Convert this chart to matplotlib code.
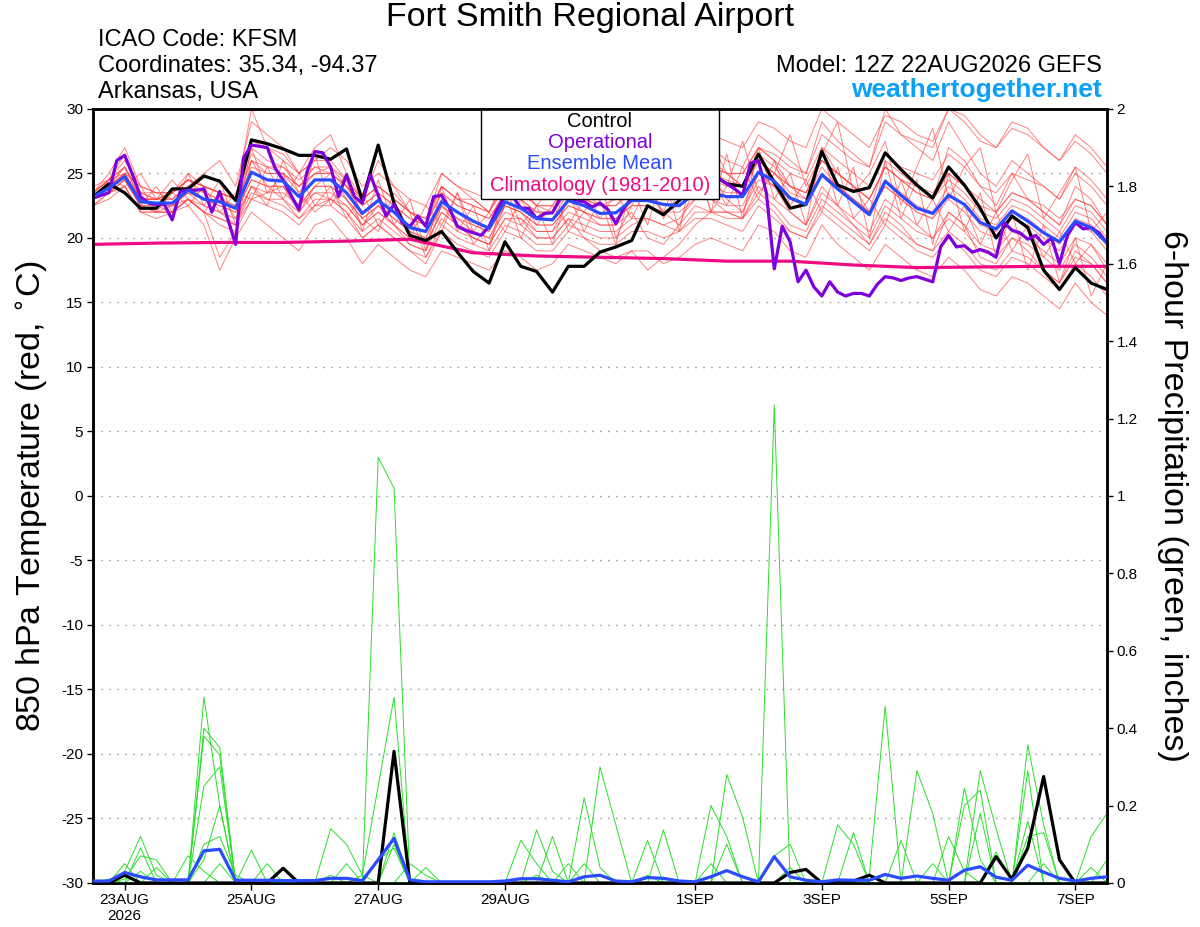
import numpy as np
import pandas as pd
import matplotlib
matplotlib.use('Agg')
import matplotlib.pyplot as plt
from matplotlib.patches import Rectangle

plt.rcParams['font.family'] = ['Liberation Sans', 'DejaVu Sans']

# time axes (6-hourly ensemble, 3-hourly operational, daily climatology)
times = pd.date_range('2026-08-22 12:00', periods=65, freq='6h')
times_op = pd.date_range('2026-08-22 12:00', periods=129, freq='3h')
times_clim = pd.date_range('2026-08-22 12:00', periods=17, freq='24h')

tick_dates = pd.to_datetime(['2026-08-23', '2026-08-25', '2026-08-27', '2026-08-29',
                             '2026-09-01', '2026-09-03', '2026-09-05', '2026-09-07'])
tick_labels = ['23AUG\n2026', '25AUG', '27AUG', '29AUG', '1SEP', '3SEP', '5SEP', '7SEP']

# 850 hPa temperature
control_t = [23.2, 24.2, 23.5, 22.3, 22.3, 23.8, 23.8, 24.8, 24.4, 22.9,
             27.6, 27.3, 26.9, 26.4, 26.4, 26.1, 26.9, 22.9, 27.2, 22.7,
             20.2, 19.8, 20.5, 18.9, 17.4, 16.5, 19.7, 17.8, 17.4, 15.8,
             17.8, 17.8, 18.9, 19.3, 19.8, 22.5, 21.8, 22.9, 24.2, 25.0,
             24.2, 24.0, 26.5, 24.3, 22.3, 22.6, 26.7, 24.1, 23.6, 23.9,
             26.6, 25.3, 24.1, 23.1, 25.5, 24.1, 22.3, 20.0, 21.7, 20.8,
             17.5, 16.0, 17.7, 16.5, 16.0]

mean_t = [23.2, 23.85, 24.75, 22.8, 22.7, 22.7, 23.7, 23.0, 22.8, 22.3,
          25.1, 24.5, 24.4, 23.2, 24.5, 24.5, 23.5, 21.9, 22.9, 22.0,
          20.8, 20.5, 22.8, 22.0, 21.3, 20.75, 22.8, 22.3, 21.5, 21.4,
          22.9, 22.5, 21.9, 21.95, 22.9, 22.9, 22.6, 22.5, 23.5, 23.5,
          23.2, 23.2, 25.1, 24.4, 23.1, 22.6, 24.9, 23.8, 22.8, 21.8,
          24.4, 23.3, 22.3, 21.9, 23.3, 22.6, 21.2, 20.7, 22.1, 21.3,
          20.4, 19.7, 21.3, 20.8, 19.6]

oper_t = [23.1, 23.3, 23.5, 26.0, 26.4, 24.9, 23.2, 22.7, 22.6, 22.6,
          21.4, 23.6, 23.7, 23.7, 23.8, 22.0, 23.6, 21.5, 19.5, 26.2,
          27.2, 27.1, 27.0, 25.4, 24.5, 23.3, 22.2, 25.1, 26.7, 26.6,
          25.5, 23.2, 24.9, 23.2, 22.7, 24.9, 23.3, 21.7, 22.6, 21.2,
          20.9, 21.7, 20.9, 23.2, 23.3, 22.3, 20.9, 20.6, 20.4, 20.2,
          20.9, 22.2, 23.2, 23.2, 22.3, 22.3, 21.5, 21.9, 21.95, 23.1,
          23.2, 22.9, 22.8, 22.4, 22.7, 22.2, 21.1, 22.3, 23.1, 23.2,
          22.9, 23.5, 23.8, 24.0, 24.2, 24.5, 24.5, 24.3, 24.0, 24.6,
          24.2, 23.8, 23.3, 25.8, 26.0, 23.5, 17.6, 20.9, 19.7, 16.6,
          17.5, 16.2, 15.5, 16.6, 15.8, 15.5, 15.7, 15.7, 15.5, 16.4,
          17.0, 16.9, 16.7, 16.9, 17.0, 16.8, 16.6, 19.3, 20.2, 19.3,
          19.4, 18.9, 19.1, 18.9, 18.5, 21.2, 20.6, 20.4, 19.9, 20.2,
          19.5, 20.0, 18.0, 20.2, 21.2, 20.7, 20.8, 20.4, 19.6]

clim_t = [19.5, 19.6, 19.65, 19.65, 19.75, 19.9, 18.85, 18.6, 18.5,
          18.4, 18.2, 18.2, 17.9, 17.7, 17.75, 17.8, 17.8]

members_t = [
    [23.5, 24.5, 26.5, 23.5, 23, 23.5, 25, 24, 23.5, 23, 30, 27, 26.5, 25, 26,
     26, 24.5, 23, 24, 23, 22, 21.5, 24, 23, 23, 22, 24.5, 24, 23, 23,
     25, 24, 24, 23.5, 25, 25.5, 25, 24.5, 26, 27, 26, 25.5, 28, 27, 26,
     25, 29, 27.5, 26.5, 25.5, 30, 28, 27, 26, 29, 27, 25, 24, 26, 25,
     24, 23, 25.5, 24.5, 23],
    [22.5, 23, 24, 22, 21.5, 22, 22.5, 21, 17.5, 20, 22, 21, 20, 19, 21,
     21.5, 20, 18, 19.5, 18.5, 17.5, 17, 19, 18.5, 18, 17.5, 19, 18.5, 17.5, 18,
     19.5, 19, 18.5, 18, 19, 19, 18, 18.5, 19.5, 20, 19.5, 19, 21, 20.5, 19,
     18.5, 21, 19.5, 18.5, 17.5, 19.5, 18.5, 17.5, 17, 18.5, 17.5, 16, 15.5, 17, 16.5,
     15.5, 14.5, 16.5, 15, 14],
    [23, 24, 25.5, 23, 23, 23.5, 24.5, 23.5, 23, 22.5, 26, 25.5, 25, 23.5, 25,
     25.5, 24, 22.5, 23.5, 22.5, 21.5, 21, 23.5, 22.5, 22, 21.5, 23.5, 23, 22, 22,
     23.5, 23, 22.5, 22.5, 23.5, 23.5, 23, 23, 24.5, 24.5, 24, 24, 26.5, 25.5, 24,
     23.5, 26, 25, 24, 23, 25.5, 24.5, 23.5, 23, 24.5, 23.5, 22, 21.5, 23, 22.5,
     21.5, 20.5, 22.5, 22, 20.5],
    [23, 23.5, 24.5, 22.5, 22, 22.5, 23, 22, 21.5, 21, 24, 23, 23, 21.5, 23,
     23, 22, 20.5, 21.5, 20.5, 19.5, 19, 21.5, 20.5, 20, 19.5, 21.5, 21, 20, 20,
     21.5, 21, 20.5, 20.5, 21.5, 21.5, 21, 20.5, 22, 22, 21.5, 21.5, 23.5, 22.5, 21,
     20.5, 23, 22, 21, 20, 22.5, 21.5, 20.5, 20, 21.5, 20.5, 19, 18.5, 20, 19.5,
     18.5, 17.5, 19.5, 18.5, 17],
    [23.5, 25, 27, 24, 23.5, 23, 24, 25, 26, 24, 29, 28, 27, 25, 27,
     28, 25, 23, 26, 24, 22, 21, 25, 24, 23, 22, 25, 24, 22.5, 22,
     24, 23.5, 22.5, 23, 24, 25, 24, 23, 26, 27.5, 25, 24, 27, 26, 24,
     23, 27, 25, 24, 22, 26, 25, 24, 23, 27, 26, 24, 22.5, 25, 23,
     22, 21, 24, 23, 21],
    [22.5, 23.5, 24, 22, 22, 22, 23, 22.5, 22, 21, 23, 23.5, 24, 22, 23.5,
     23, 22.5, 21, 22, 21, 20, 19.5, 22, 21, 20, 19.5, 21.5, 21.5, 20.5, 20.5,
     22, 21.5, 21, 21, 22, 20, 19.5, 21, 22.5, 22, 22, 21.5, 24, 23, 22,
     21, 23.5, 22.5, 21.5, 20.5, 23, 22, 21, 20, 22, 21, 19.5, 19, 20.5, 20,
     19, 18, 20, 19.5, 18],
    [23, 24, 25, 23, 23, 23, 24, 23.5, 23, 22.5, 25.5, 25, 25, 24, 25,
     25, 24, 22.5, 23.5, 22.5, 21.5, 21, 23.5, 22.5, 22, 21.5, 23.5, 23, 22, 22,
     24, 23.5, 23, 23, 24, 24, 23.5, 23.5, 25, 25.5, 25, 25, 27, 26.5, 25.5,
     25, 28, 27, 26, 25.5, 29, 28, 27.5, 27, 30, 29, 27.5, 27, 28.5, 28,
     27, 26, 27.5, 26.5, 25],
    [23, 23.5, 24.5, 22.5, 22.5, 22, 23, 22, 18.5, 20.5, 23, 22.5, 22, 21, 22.5,
     23, 22, 20, 21, 20, 19, 18.5, 21, 20, 19.5, 19, 21, 20.5, 19.5, 19.5,
     21, 20.5, 20, 20, 21, 21.5, 21, 21.5, 23, 23, 22.5, 22.5, 25, 24, 23,
     22.5, 25, 24, 23, 22, 24, 23, 22, 21.5, 23, 22, 20.5, 20, 21.5, 21,
     20, 19, 21, 20.5, 19],
    [23, 24.5, 25, 22.5, 24, 22, 25, 22.5, 24.5, 21, 27, 23.5, 25, 22, 26.5,
     22.5, 24.5, 20.5, 24.5, 21, 23, 19, 24, 20.5, 22.5, 19, 24, 21, 22.5, 19.5,
     23.5, 20.5, 23, 19.5, 24, 21, 25, 20.5, 26, 22, 26.5, 21.5, 27, 23, 25,
     21, 27, 22.5, 25.5, 20, 26, 21.5, 24.5, 19.5, 25, 20.5, 23.5, 18.5, 22, 17.5,
     21, 16.5, 20, 15.5, 18],
    [23, 24, 25.5, 23.5, 23, 23.5, 24.5, 24, 23.5, 23, 27, 26, 25.5, 24, 25.5,
     25, 24, 22, 23, 22, 21, 20.5, 23, 22, 21, 20.5, 23.5, 22.5, 21.5, 21.5,
     23.5, 23, 22.5, 22.5, 24, 24.5, 24, 24, 25.5, 26, 25, 24, 26, 25, 23.5,
     23, 25.5, 24, 23, 22, 24.5, 23.5, 22.5, 22, 24, 23, 21.5, 21, 22.5, 22,
     21, 20, 22, 21.5, 20],
    [23, 23.5, 25, 23, 22.5, 22.5, 23.5, 23, 22.5, 22, 24.5, 24, 24, 22.5, 24,
     24, 23, 21.5, 22.5, 21.5, 20.5, 20, 22.5, 21.5, 21, 20.5, 22.5, 22, 21, 21,
     22.5, 22, 21.5, 21.5, 22.5, 22.5, 22, 22, 23, 23, 22, 21.5, 23, 22, 20.5,
     20, 22, 21, 20, 19, 21, 20, 19, 18.5, 20, 19, 17.5, 17, 18.5, 18,
     17, 16, 18, 17, 15.5],
    [24, 24.5, 26, 24, 23.5, 23.5, 24.5, 24, 23.5, 23, 27.5, 27, 26, 25, 26,
     27, 26, 24, 25, 24, 23, 22.5, 25, 24, 23.5, 23, 25, 24.5, 23.5, 23,
     25, 24.5, 24, 23.5, 24.5, 24.5, 24, 24, 25, 25, 24.5, 24, 26, 25, 24,
     23.5, 26, 25, 24, 23, 25.5, 24.5, 24, 23.5, 25, 24, 23, 22, 23.5, 23,
     22.5, 21.5, 23, 22.5, 21],
    [23, 24, 25, 23, 23, 23, 24, 23, 22.5, 22, 24.5, 24, 24, 22.5, 24,
     24, 23, 21.5, 22.5, 21.5, 20.5, 20, 22.5, 21.5, 20.5, 20, 22, 21.5, 20, 20,
     21.5, 20, 19, 18.5, 19, 17.5, 18.5, 19.5, 21, 22, 22, 22, 24.5, 24, 23,
     22.5, 25, 24, 23, 22, 24, 23, 22, 21.5, 23.5, 22.5, 21, 20.5, 22, 21.5,
     20.5, 19.5, 21.5, 21, 19.5],
    [22.5, 23.5, 24.5, 22.5, 22.5, 22.5, 23.5, 22.5, 22, 21.5, 24, 23.5, 23.5, 22.5, 23.5,
     23.5, 22.5, 21, 22, 21, 20, 19.5, 22, 21, 20.5, 20, 22.5, 22, 21, 21,
     22.5, 22, 21.5, 21.5, 22.5, 22.5, 22, 22.5, 24, 24, 23.5, 23.5, 26, 25, 24,
     23.5, 26, 25, 24, 23, 25.5, 24.5, 23.5, 23, 25, 24, 22.5, 22, 23.5, 23,
     22, 21, 23, 22.5, 21],
    [23.5, 24.5, 25.5, 23.5, 23.5, 23.5, 24.5, 24, 23.5, 23, 26.5, 25.5, 25.5, 24.5, 25.5,
     25.5, 24.5, 23, 24, 23, 22, 21.5, 24, 23, 22.5, 22, 24, 23.5, 22.5, 22.5,
     24.5, 24, 23.5, 23.5, 24.5, 25, 24.5, 25, 27, 28, 27.5, 27, 29, 28.5, 27.5,
     27, 30, 29, 28, 27, 29.5, 29, 28, 27.5, 30, 29.5, 28, 27, 29, 28.5,
     27, 26, 28, 27, 25.5],
    [23, 23.5, 25, 24, 22, 23.5, 22.5, 24, 22, 23.5, 23, 25.5, 23, 25, 22.5,
     24, 21.5, 23.5, 21, 22.5, 20, 22.5, 21, 23.5, 20.5, 22, 20.5, 23, 21, 22.5,
     21, 23, 21.5, 23.5, 21.5, 24, 22, 25, 23, 24.5, 22.5, 25.5, 23, 26, 22.5,
     24.5, 22, 25.5, 21.5, 23, 21, 24.5, 21, 23, 20.5, 22.5, 19.5, 22, 19, 21,
     18.5, 20.5, 18, 19.5, 17.5],
    [23, 24, 25, 22.5, 22, 22, 23, 22, 21, 20.5, 26, 24, 23, 22, 24,
     25, 23, 21, 22.5, 21, 19.5, 19, 22.5, 21, 20, 19.5, 22.5, 22, 20.5, 20.5,
     23, 22, 21, 21, 23, 23.5, 22, 21, 24, 25, 23, 22, 25, 24, 22,
     21, 24, 22.5, 21, 19.5, 22, 21, 19.5, 19, 22, 21, 18.5, 18, 20, 19,
     17.5, 16.5, 19, 18, 16.5],
    [23.5, 24.5, 24, 25, 23, 24.5, 23, 22, 23.5, 21.5, 24, 22.5, 26, 23.5, 22,
     23, 25, 21.5, 20.5, 23.5, 22, 18.5, 20.5, 23.5, 19.5, 21, 23.5, 20, 22.5, 24,
     20.5, 22, 24.5, 20, 22.5, 25, 21.5, 23.5, 26.5, 22, 24, 27.5, 23.5, 25, 28,
     24, 26.5, 29, 23.5, 25, 27.5, 22.5, 25.5, 28.5, 23, 25.5, 27, 22, 24.5, 26.5,
     21.5, 23.5, 25.5, 20.5, 22],
    [23, 23.5, 24, 22, 22, 22, 23, 22, 21.5, 21, 23.5, 23, 22.5, 21.5, 22.5,
     22.5, 21.5, 20, 21, 20, 19, 18, 20.5, 19.5, 19, 18.5, 20.5, 20, 19, 19,
     20.5, 20, 19.5, 19.5, 20.5, 20.5, 20, 20.5, 21.5, 21.5, 21, 20.5, 22.5, 21.5, 20.5,
     20, 22.5, 21.5, 20.5, 19.5, 21.5, 20.5, 19.5, 19, 20.5, 19.5, 18, 17.5, 19, 18.5,
     17.5, 16.5, 18.5, 18, 16.5],
    [23.5, 24.5, 25.5, 23, 23, 23.5, 24.5, 24, 23.5, 23, 26, 25, 25, 24, 25,
     25, 24, 23, 24, 23, 22, 21, 24, 23, 22.5, 22, 24, 23.5, 22.5, 22.5,
     24, 23.5, 23, 23, 24, 24, 23.5, 24, 25, 25.5, 25, 25, 27, 26, 25,
     24.5, 27, 26, 25, 24, 26.5, 25.5, 25, 24.5, 26.5, 25.5, 24, 23.5, 25, 24.5,
     24, 23, 25, 24, 22.5],
]

# 6-hour precipitation (inches)
control_p = [0, 0, .02, 0, 0, 0, 0, 0, 0, 0, 0, 0, .038,
             0, 0, 0, 0, 0, 0, .34, 0, 0, 0, 0, 0, 0,
             0, 0, 0, 0, 0, 0, 0, 0, 0, 0, 0, 0, 0,
             0, 0, 0, 0, 0, .027, .035, 0, .005, .005, .02, 0, 0,
             0, 0, 0, 0, 0, .068, .01, .09, .275, .06, 0, 0, 0]

mean_p = [.005, .005, .027, .016, .008, .008, .008, .083, .087, .007, .007, .007, .006,
          .006, .006, .012, .012, .006, .06, .115, .008, .003, .003, .003, .003, .003,
          .005, .011, .011, .007, .003, .016, .02, .005, .003, .014, .012, .005, .003,
          .016, .032, .016, .003, .068, .016, .007, .003, .008, .007, .007, .022, .012,
          .018, .012, .007, .033, .042, .015, .007, .046, .028, .012, .005, .012, .016]

members_p = [
    [0, 0, .03, .12, .02, 0, 0, .48, .2, 0, 0, 0, 0,
     0, 0, 0, 0, 0, 0, .33, 0, 0, 0, 0, 0, 0,
     0, 0, 0, 0, 0, 0, 0, 0, 0, 0, 0, 0, 0,
     0, 0, 0, 0, 0, .04, 0, 0, 0, 0, 0, 0, 0,
     0, 0, 0, 0, 0, 0, 0, 0, 0, 0, 0, .04, 0],
    [0, .01, 0, .09, 0, 0, 0, .40, .35, 0, 0, 0, 0,
     0, 0, 0, 0, 0, 0, .13, 0, 0, 0, 0, 0, 0,
     0, 0, .02, 0, 0, 0, 0, 0, 0, 0, 0, 0, 0,
     0, 0, 0, 0, 0, 0, 0, 0, .15, .10, 0, 0, 0,
     0, 0, 0, 0, 0, 0, 0, 0, 0, 0, 0, 0, 0],
    [0, 0, .01, .07, .06, 0, 0, .38, .33, 0, 0, 0, 0,
     0, 0, 0, 0, 0, 0, .10, 0, 0, 0, 0, 0, 0,
     0, 0, 0, 0, 0, 0, 0, 0, 0, 0, 0, 0, 0,
     0, 0, 0, 0, 0, 0, 0, 0, 0, .13, 0, 0, 0,
     0, 0, 0, 0, 0, 0, 0, 0, 0, 0, 0, 0, 0],
    [0, 0, .05, 0, 0, 0, 0, .25, .30, 0, 0, 0, 0,
     0, 0, 0, 0, 0, 0, 0, 0, 0, 0, 0, 0, 0,
     0, 0, 0, 0, 0, 0, 0, 0, 0, 0, 0, 0, 0,
     0, 0, 0, 0, 0, 0, 0, 0, 0, 0, .02, .457, 0,
     0, 0, 0, 0, 0, 0, 0, 0, 0, 0, 0, 0, 0],
    [0, 0, 0, 0, .04, 0, 0, .06, .2, 0, 0, 0, 0,
     0, 0, 0, 0, 0, 0, 0, 0, 0, 0, 0, 0, 0,
     0, 0, 0, 0, .05, 0, 0, 0, 0, 0, 0, 0, 0,
     0, 0, 0, 0, 0, 0, 0, 0, 0, 0, 0, 0, 0,
     .29, .18, 0, 0, 0, 0, 0, 0, 0, 0, 0, 0, 0],
    [0, 0, 0, .03, 0, 0, 0, .1, .12, .02, 0, 0, 0,
     0, 0, 0, 0, 0, 0, 0, 0, 0, 0, 0, 0, 0,
     0, 0, 0, 0, 0, .05, 0, 0, 0, 0, 0, 0, 0,
     0, 0, 0, 0, 0, 0, 0, 0, 0, 0, 0, 0, .11,
     0, 0, 0, 0, 0, 0, 0, 0, 0, 0, 0, 0, 0],
    [0, 0, 0, 0, 0, 0, 0, 0, .05, 0, 0, 0, 0,
     0, 0, 0, 0, 0, .06, .09, 0, 0, 0, 0, 0, 0,
     0, 0, 0, 0, 0, 0, 0, 0, 0, 0, 0, 0, 0,
     0, 0, 0, 0, 0, 0, 0, 0, 0, 0, 0, 0, 0,
     0, 0, .12, .03, 0, 0, 0, 0, 0, 0, 0, 0, 0],
    [0, 0, 0, 0, 0, 0, .07, .03, 0, 0, 0, 0, 0,
     0, 0, 0, 0, 0, 0, 0, .05, .02, 0, 0, 0, 0,
     0, 0, 0, 0, 0, 0, 0, 0, 0, 0, 0, 0, 0,
     0, 0, 0, 0, 0, 0, 0, 0, 0, 0, 0, 0, 0,
     0, .05, 0, 0, 0, 0, 0, 0, 0, 0, 0, 0, 0],
    [0, 0, 0, 0, 0, 0, 0, 0, 0, 0, .085, 0, 0,
     0, 0, 0, 0, 0, 0, 0, 0, .04, 0, 0, 0, 0,
     0, 0, 0, 0, 0, 0, 0, 0, 0, 0, 0, 0, 0,
     0, 0, 0, 0, 0, 0, 0, 0, 0, 0, 0, 0, 0,
     0, 0, 0, .245, .06, 0, 0, 0, 0, 0, 0, 0, 0],
    [0, 0, 0, 0, 0, 0, 0, 0, 0, 0, 0, .05, 0,
     0, 0, 0, 0, 0, 0, 0, 0, 0, 0, 0, 0, 0,
     0, .11, .05, 0, 0, 0, 0, 0, 0, 0, 0, 0, 0,
     0, 0, 0, 0, 0, 0, 0, 0, 0, 0, 0, 0, 0,
     0, 0, 0, .2, .24, 0, 0, 0, 0, 0, 0, 0, 0],
    [0, 0, 0, 0, 0, 0, 0, 0, 0, 0, 0, 0, .04,
     0, 0, 0, 0, 0, 0, 0, 0, 0, 0, 0, 0, 0,
     0, 0, .137, .03, 0, 0, 0, 0, 0, 0, 0, 0, 0,
     0, 0, 0, 0, 0, 0, 0, 0, 0, 0, 0, 0, 0,
     0, 0, 0, 0, .29, .14, 0, 0, 0, 0, 0, 0, 0],
    [0, 0, 0, 0, 0, 0, 0, 0, 0, 0, 0, 0, 0,
     0, 0, .14, .10, .02, 0, 0, 0, 0, 0, 0, 0, 0,
     0, 0, 0, .12, 0, 0, 0, 0, 0, 0, 0, 0, 0,
     0, 0, 0, 0, 0, 0, 0, 0, 0, 0, 0, 0, 0,
     0, 0, 0, 0, .18, 0, 0, 0, 0, 0, 0, 0, 0],
    [0, 0, 0, 0, 0, 0, 0, 0, 0, 0, 0, 0, 0,
     0, 0, 0, .05, 0, 0, 0, 0, 0, 0, 0, 0, 0,
     0, 0, 0, 0, 0, .22, .04, 0, 0, 0, 0, 0, 0,
     0, 0, 0, 0, 0, 0, 0, 0, 0, 0, 0, 0, 0,
     0, 0, 0, 0, 0, .08, 0, 0, 0, 0, 0, 0, 0],
    [0, 0, 0, 0, 0, 0, 0, 0, 0, 0, 0, 0, 0,
     0, 0, .02, 0, 0, 0, 0, 0, 0, 0, 0, 0, 0,
     0, 0, 0, 0, 0, 0, .30, .15, 0, 0, 0, 0, 0,
     0, 0, 0, 0, 0, 0, 0, 0, 0, 0, 0, 0, 0,
     0, 0, 0, 0, 0, 0, 0, .357, .15, 0, 0, 0, 0],
    [0, 0, 0, 0, 0, 0, 0, 0, 0, 0, 0, 0, 0,
     0, 0, 0, 0, 0, 1.1, 1.02, 0, 0, 0, 0, 0, 0,
     0, 0, 0, 0, 0, 0, 0, 0, 0, .11, 0, 0, 0,
     0, 0, 0, 0, 0, 0, 0, 0, 0, 0, 0, 0, 0,
     0, 0, 0, 0, 0, 0, 0, .29, 0, 0, 0, 0, 0],
    [0, 0, 0, 0, 0, 0, 0, 0, 0, 0, 0, 0, 0,
     0, 0, 0, 0, .02, .25, .48, 0, 0, 0, 0, 0, 0,
     0, 0, 0, 0, 0, 0, 0, 0, 0, 0, .137, 0, 0,
     0, 0, 0, 0, 0, 0, 0, 0, 0, 0, 0, 0, 0,
     0, 0, 0, 0, 0, 0, 0, .16, 0, 0, 0, 0, 0],
    [0, 0, 0, 0, 0, 0, 0, 0, 0, 0, 0, 0, 0,
     0, 0, 0, 0, 0, 0, 0, 0, 0, 0, 0, 0, 0,
     0, 0, 0, 0, 0, 0, 0, 0, 0, 0, 0, 0, 0,
     .2, .12, 0, 0, 0, 0, 0, 0, 0, 0, 0, 0, 0,
     0, 0, 0, 0, 0, 0, 0, .12, .13, 0, 0, 0, 0],
    [0, 0, 0, 0, 0, 0, 0, 0, 0, 0, 0, 0, 0,
     0, 0, 0, 0, 0, 0, 0, 0, 0, 0, 0, 0, 0,
     0, 0, 0, 0, 0, 0, 0, 0, 0, .02, 0, 0, 0,
     0, .28, .17, 0, 0, 0, 0, 0, 0, 0, 0, 0, 0,
     0, 0, 0, 0, 0, 0, 0, 0, .05, 0, 0, 0, 0],
    [0, 0, 0, 0, 0, 0, 0, 0, 0, 0, 0, 0, 0,
     0, 0, 0, 0, 0, 0, 0, 0, 0, 0, 0, 0, 0,
     0, 0, 0, 0, 0, 0, 0, 0, 0, 0, 0, 0, 0,
     0, .1, 0, 0, 1.235, 0, 0, 0, 0, 0, 0, 0, 0,
     0, 0, 0, 0, 0, 0, 0, 0, 0, 0, 0, .12, .18],
    [0, 0, 0, 0, 0, 0, 0, 0, 0, 0, 0, 0, 0,
     0, 0, 0, 0, 0, 0, 0, 0, 0, 0, 0, 0, 0,
     0, 0, 0, 0, 0, 0, 0, 0, 0, 0, 0, 0, 0,
     .05, 0, 0, 0, .07, .10, 0, 0, 0, 0, 0, 0, 0,
     0, 0, 0, 0, 0, 0, 0, 0, 0, 0, 0, 0, .06],
]

c_black = 'black'
c_oper = '#7f00dd'
c_mean = '#2a4bff'
c_clim = '#ee0a82'

fig = plt.figure(figsize=(12, 9.27), dpi=100)
ax = fig.add_axes([0.0775, 0.0475, 0.845, 0.835])
ax2 = ax.twinx()

# temperatures on the left axis
for m in members_t:
    ax.plot(times, m, color='#ff4040', lw=0.7, alpha=0.65, zorder=2)
ax.plot(times_clim, clim_t, color=c_clim, lw=2.3, zorder=3)
ax.plot(times, control_t, color=c_black, lw=2.3, zorder=4)
ax.plot(times_op, oper_t, color=c_oper, lw=2.3, zorder=5)
ax.plot(times, mean_t, color=c_mean, lw=2.3, zorder=6)

# precipitation on the right axis
for m in members_p:
    ax2.plot(times, m, color='#2ade2a', lw=0.7, zorder=2)
ax2.plot(times, control_p, color=c_black, lw=2.3, zorder=4)
ax2.plot(times, mean_p, color=c_mean, lw=2.3, zorder=5)

ax.set_xlim(times[0], times[-1])
ax.set_ylim(-30, 30)
ax2.set_ylim(0, 2)

ax.set_yticks(np.arange(-30, 31, 5))
ax.set_yticklabels([str(v) for v in range(-30, 31, 5)])
ax2.set_yticks(np.arange(0, 2.01, 0.2))
ax2.set_yticklabels(['0', '0.2', '0.4', '0.6', '0.8', '1', '1.2', '1.4', '1.6', '1.8', '2'])
ax.set_xticks(tick_dates)
ax.set_xticklabels(tick_labels)

ax.yaxis.grid(True, color='#a0a0a0', lw=1.0, linestyle=(0, (1.2, 4.5)))
ax.set_axisbelow(True)

for a in (ax, ax2):
    for s in a.spines.values():
        s.set_linewidth(1.8)
    a.tick_params(direction='out', length=4, width=1, labelsize=11, pad=3)
ax.tick_params(axis='x', length=5, pad=2)

# legend box
ax.add_patch(Rectangle((0.383, 0.884), 0.234, 0.116, transform=ax.transAxes,
                       facecolor='white', edgecolor='black', lw=1, zorder=10))
leg_items = [('Control', c_black), ('Operational', c_oper),
             ('Ensemble Mean', c_mean), ('Climatology (1981-2010)', c_clim)]
for k, (txt, col) in enumerate(leg_items):
    ax.text(0.5, 0.984 - k * 0.0275, txt, color=col, fontsize=14.5,
            ha='center', va='center', transform=ax.transAxes, zorder=11)

# header
fig.text(0.4917, 0.9806, 'Fort Smith Regional Airport', fontsize=24.5, ha='center', va='center')
fig.text(0.0817, 0.9569, 'ICAO Code: KFSM', fontsize=17, ha='left', va='center')
fig.text(0.0817, 0.9288, 'Coordinates: 35.34, -94.37', fontsize=17, ha='left', va='center')
fig.text(0.0817, 0.9008, 'Arkansas, USA', fontsize=17, ha='left', va='center')
fig.text(0.918, 0.9288, 'Model: 12Z 22AUG2026 GEFS', fontsize=17, ha='right', va='center')
fig.text(0.918, 0.9029, 'weathertogether.net', fontsize=19, fontweight='bold',
         color='#0aa0f5', ha='right', va='center')

fig.text(0.0275, 0.465, '850 hPa Temperature (red, $^{\\circ}$C)', fontsize=24.5,
         rotation=90, ha='center', va='center')
fig.text(0.977, 0.465, '6-hour Precipitation (green, inches)', fontsize=24.5,
         rotation=-90, ha='center', va='center')

fig.savefig('out.png', dpi=100)
